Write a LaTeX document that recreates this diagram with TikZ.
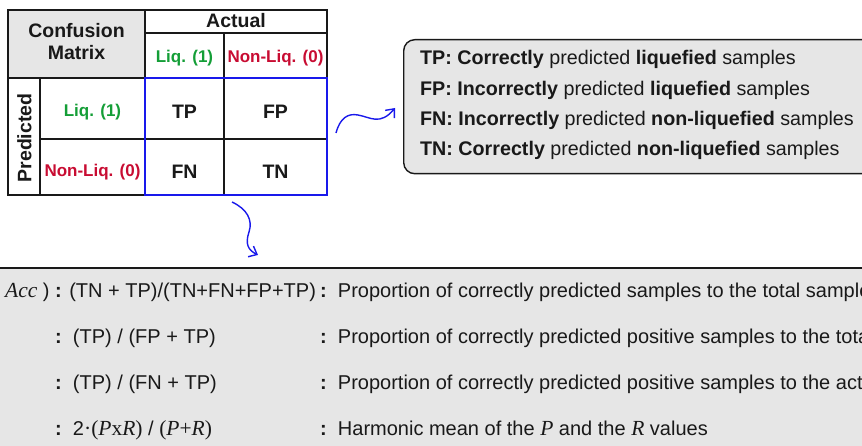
\documentclass[tikz,border=0pt]{standalone}
\usepackage{fontspec}
\setmainfont{Liberation Sans}
\newfontfamily\tms{Liberation Serif}
\usetikzlibrary{arrows.meta}
\definecolor{liqgreen}{RGB}{20,158,55}
\definecolor{nonred}{RGB}{200,12,50}
\definecolor{arrblue}{RGB}{25,25,235}
\definecolor{boxgray}{RGB}{230,230,230}
\definecolor{ink}{RGB}{25,25,25}
\tikzset{
  cell/.style={draw=ink, line width=1.3pt, inner sep=0pt, outer sep=0pt},
  big/.style={anchor=base, inner sep=0pt, text=ink, font=\fontsize{19.5}{22}\selectfont\bfseries},
  lab/.style={anchor=base, inner sep=0pt, font=\fontsize{17}{20}\selectfont\bfseries},
  defline/.style={anchor=base west, inner sep=0pt, text=ink, font=\fontsize{19.7}{22}\selectfont},
  metline/.style={anchor=base west, inner sep=0pt, text=ink, font=\fontsize{20}{24}\selectfont},
  wavy/.style={draw=arrblue, line width=1.4pt, -{Straight Barb[length=7pt,width=12pt]}},
}
\begin{document}
\begin{tikzpicture}[x=1pt,y=-1pt]
\useasboundingbox (0,0) rectangle (862,446);
\clip (0,0) rectangle (862,446);
% confusion matrix cells
\node[cell, fill=boxgray, minimum width=137, minimum height=68] (cm) at (76.5,44) {};
\node[cell, minimum width=182, minimum height=23] (actual) at (236,21.5) {};
\node[cell, minimum width=79, minimum height=45] (aliq) at (184.5,55.5) {};
\node[cell, minimum width=103, minimum height=45] (anon) at (275.5,55.5) {};
\node[cell, minimum width=32, minimum height=117] (predbox) at (24,136.5) {};
\node[cell, minimum width=105, minimum height=61] (pliq) at (92.5,108.5) {};
\node[cell, minimum width=105, minimum height=56] (pnon) at (92.5,167) {};
\node[cell, minimum width=79, minimum height=61] (tp) at (184.5,108.5) {};
\node[cell, minimum width=103, minimum height=61] (fp) at (275.5,108.5) {};
\node[cell, minimum width=79, minimum height=56] (fn) at (184.5,167) {};
\node[cell, minimum width=103, minimum height=56] (tn) at (275.5,167) {};
\node[draw=arrblue, line width=1.4pt, inner sep=0pt, minimum width=182, minimum height=117] (core) at (236,136.5) {};
% matrix texts
\node[big] (cmA) at (76.5,37.5) {Confusion};
\node[big] (cmB) at (76.5,59.5) {Matrix};
\node[big] (actualT) at (236,27.5) {Actual};
\node[lab, text=liqgreen] (aliqT) at (184.5,63) {Liq. (1)};
\node[lab, text=nonred] (anonT) at (275.5,63) {Non-Liq. (0)};
\node[big, anchor=center, rotate=90] (pred) at (24.5,138) {Predicted};
\node[lab, text=liqgreen] (pliqT) at (92.5,117) {Liq. (1)};
\node[lab, text=nonred] (pnonT) at (92.5,177) {Non-Liq. (0)};
\node[big] (tpT) at (184.5,118.3) {TP};
\node[big] (fpT) at (275.5,118.3) {FP};
\node[big] (fnT) at (184.5,178.3) {FN};
\node[big] (tnT) at (275.5,178.3) {TN};
% definitions box
\node[draw=ink, line width=1.4pt, fill=boxgray, rounded corners=11pt, minimum width=480, minimum height=134, anchor=north west, inner sep=0pt] (defbox) at (403,39) {};
\node[defline] (d1) at (420,65) {\textbf{TP: Correctly} predicted \textbf{liquefied} samples};
\node[defline] (d2) at (420,96) {\textbf{FP: Incorrectly} predicted \textbf{liquefied} samples};
\node[defline] (d3) at (420,126) {\textbf{FN: Incorrectly} predicted \textbf{non-liquefied} samples};
\node[defline] (d4) at (420,156) {\textbf{TN: Correctly} predicted \textbf{non-liquefied} samples};
% metrics box
\node[draw=ink, line width=1.6pt, fill=boxgray, minimum width=900, minimum height=220, anchor=north west, inner sep=0pt] (metbox) at (-20,267) {};
\node[metline] (m1a) at (5,298) {{\tms\itshape\fontsize{21.5}{24}\selectfont Acc} ) \textbf{:} (TN + TP)/(TN+FN+FP+TP)};
\node[metline] (m1b) at (320,298) {\textbf{:}\ \ Proportion of correctly predicted samples to the total samples};
\node[metline] (m2a) at (55,343) {\textbf{:}\ \ (TP) / (FP + TP)};
\node[metline] (m2b) at (320,343) {\textbf{:}\ \ Proportion of correctly predicted positive samples to the total predicted};
\node[metline] (m3a) at (55,389) {\textbf{:}\ \ (TP) / (FN + TP)};
\node[metline] (m3b) at (320,389) {\textbf{:}\ \ Proportion of correctly predicted positive samples to the actual positive};
\node[metline] (m4a) at (55,435) {\textbf{:}\ \ 2{\tms\fontsize{21.5}{24}\selectfont·(\textit{P}x\textit{R})} / {\tms\fontsize{21.5}{24}\selectfont(\textit{P}+\textit{R})}};
\node[metline] (m4b) at (320,435) {\textbf{:}\ \ Harmonic mean of the {\tms\itshape\fontsize{21.5}{24}\selectfont P} and the {\tms\itshape\fontsize{21.5}{24}\selectfont R} values};
% wavy arrows
\coordinate (w1s) at (336,133);
\coordinate (w1e) at (395,108);
\draw[wavy] (w1s) .. controls (340,118) and (348,113) .. (358,115) .. controls (370,117) and (380,126) .. (w1e);
\coordinate (w2s) at (232,202);
\coordinate (w2e) at (258,255);
\draw[wavy] (w2s) .. controls (247,209) and (253,220) .. (249,232) .. controls (245,244) and (248,250) .. (w2e);
\end{tikzpicture}
\end{document}
